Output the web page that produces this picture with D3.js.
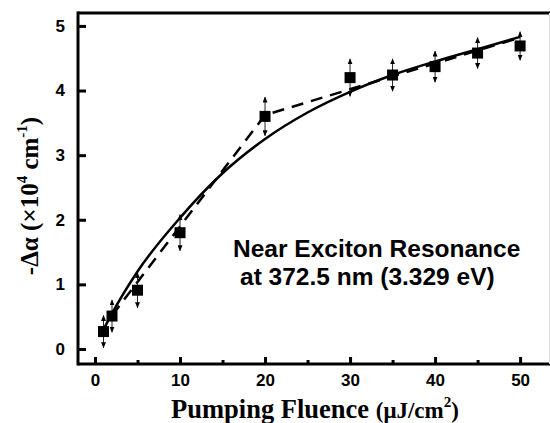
<!DOCTYPE html>
<html lang="en">
<head>
<meta charset="UTF-8">
<title>Pumping fluence</title>
<script src="https://d3js.org/d3.v7.min.js"></script>
<style>
    body { margin: 0; background: #fff; }
    svg text { fill: #000; }
    .tick-lbl { font-family: Arial, "Liberation Sans", sans-serif; font-weight: bold; font-size: 17px; }
    .note { font-family: Arial, "Liberation Sans", sans-serif; font-weight: bold; font-size: 24.5px; }
    .title { font-family: "Times New Roman", "Liberation Serif", serif; font-weight: bold; }
</style>
</head>
<body>
<div id="chart"></div>
<script>
    // measured points
    let fluence = [1, 2, 5, 10, 20, 30, 35, 40, 45, 50];
    let dAlpha  = [0.27, 0.51, 0.91, 1.80, 3.60, 4.20, 4.24, 4.37, 4.58, 4.69];
    let errBar  = [0.25, 0.25, 0.27, 0.28, 0.30, 0.29, 0.25, 0.24, 0.24, 0.22];

    // solid fit curve
    let fitX = [1, 2, 5, 10, 15, 20, 25, 30, 35, 40, 45, 50];
    let fitY = [0.30, 0.55, 1.20, 2.03, 2.72, 3.25, 3.66, 3.98, 4.24, 4.45, 4.64, 4.83];

    // dashed two-segment guide
    let dashX = [2, 20, 50];
    let dashY = [0.52, 3.62, 4.82];

    let xTicks = [0, 10, 20, 30, 40, 50];
    let xMinor = [5, 15, 25, 35, 45];
    let yTicks = [0, 1, 2, 3, 4, 5];

    let width = 550, height = 423;
    let frame = {left: 78, top: 13, right: 549, bottom: 364};

    let svg = d3.select("#chart").append("svg")
        .attr("width", width)
        .attr("height", height);

    let x = d3.scaleLinear().domain([-2, 53.4]).range([frame.left, frame.right]);
    let y = d3.scaleLinear().domain([-0.232, 5.2]).range([frame.bottom, frame.top]);

    // arrowhead, tip along the line direction
    svg.append("defs").append("marker")
        .attr("id", "arrow")
        .attr("viewBox", "0 0 12 10")
        .attr("refX", 11).attr("refY", 5)
        .attr("markerWidth", 6).attr("markerHeight", 5)
        .attr("orient", "auto-start-reverse")
        .append("path")
        .attr("d", "M0,0 L12,5 L0,10 Z")
        .attr("fill", "#000");

    // frame: left, bottom, top thick; right side nearly cut off
    svg.append("line").attr("x1", frame.left).attr("x2", frame.left)
        .attr("y1", frame.top - 1.5).attr("y2", frame.bottom + 1.5)
        .attr("stroke", "#000").attr("stroke-width", 3);
    svg.append("line").attr("x1", frame.left).attr("x2", width)
        .attr("y1", frame.bottom).attr("y2", frame.bottom)
        .attr("stroke", "#000").attr("stroke-width", 3);
    svg.append("line").attr("x1", frame.left).attr("x2", width)
        .attr("y1", frame.top).attr("y2", frame.top)
        .attr("stroke", "#000").attr("stroke-width", 3);
    svg.append("line").attr("x1", frame.right + 0.5).attr("x2", frame.right + 0.5)
        .attr("y1", frame.top).attr("y2", frame.bottom)
        .attr("stroke", "#ddd").attr("stroke-width", 1);

    // x axis ticks (pointing inward)
    let xAxis = d3.axisBottom(x).tickValues(xTicks).tickSize(-7).tickPadding(10).tickFormat(d3.format("d"));
    let gx = svg.append("g").attr("transform", `translate(0,${frame.bottom})`).call(xAxis);
    gx.select(".domain").remove();
    gx.selectAll(".tick line").attr("stroke-width", 3);
    gx.selectAll(".tick text").attr("class", "tick-lbl").attr("font-size", null).attr("font-family", null);

    let gxm = svg.append("g").attr("transform", `translate(0,${frame.bottom})`)
        .call(d3.axisBottom(x).tickValues(xMinor).tickSize(-4).tickFormat(""));
    gxm.select(".domain").remove();
    gxm.selectAll(".tick line").attr("stroke-width", 3);

    let yAxis = d3.axisLeft(y).tickValues(yTicks).tickSize(-8).tickPadding(13).tickFormat(d3.format("d"));
    let gy = svg.append("g").attr("transform", `translate(${frame.left},0)`).call(yAxis);
    gy.select(".domain").remove();
    gy.selectAll(".tick line").attr("stroke-width", 3);
    gy.selectAll(".tick text").attr("class", "tick-lbl").attr("font-size", null).attr("font-family", null);

    // fit curve
    let fitLine = d3.line()
        .x(d => x(d[0]))
        .y(d => y(d[1]))
        .curve(d3.curveMonotoneX);
    svg.append("path")
        .datum(d3.zip(fitX, fitY))
        .attr("fill", "none")
        .attr("stroke", "#000")
        .attr("stroke-width", 2.5)
        .attr("d", fitLine);

    // dashed guide
    let dashLine = d3.line().x(d => x(d[0])).y(d => y(d[1]));
    svg.append("path")
        .datum(d3.zip(dashX, dashY))
        .attr("fill", "none")
        .attr("stroke", "#000")
        .attr("stroke-width", 2.5)
        .attr("stroke-dasharray", "12,8")
        .attr("d", dashLine);

    let pts = fluence.map((f, i) => ({x: f, y: dAlpha[i], e: errBar[i]}));

    // error bars
    svg.append("g").selectAll("line")
        .data(pts)
        .join("line")
        .attr("x1", d => x(d.x)).attr("x2", d => x(d.x))
        .attr("y1", d => y(d.y + d.e)).attr("y2", d => y(d.y - d.e))
        .attr("stroke", "#222")
        .attr("stroke-width", 1)
        .attr("marker-start", "url(#arrow)")
        .attr("marker-end", "url(#arrow)");

    // square markers
    let sz = 11;
    svg.append("g").selectAll("rect")
        .data(pts)
        .join("rect")
        .attr("x", d => x(d.x) - sz / 2)
        .attr("y", d => y(d.y) - sz / 2)
        .attr("width", sz).attr("height", sz)
        .attr("fill", "#000");

    // annotation
    svg.append("text").attr("class", "note")
        .attr("x", 233).attr("y", 257)
        .text("Near Exciton Resonance");
    svg.append("text").attr("class", "note")
        .attr("x", 240).attr("y", 285)
        .text("at 372.5 nm (3.329 eV)");

    // axis titles
    let xt = svg.append("text").attr("class", "title")
        .attr("x", 315).attr("y", 418)
        .attr("text-anchor", "middle")
        .attr("font-size", 26.5);
    xt.append("tspan").text("Pumping Fluence ");
    xt.append("tspan").attr("font-size", 23).text("(\u03bcJ/cm");
    xt.append("tspan").attr("font-size", 15).attr("dy", -11).text("2");
    xt.append("tspan").attr("font-size", 23).attr("dy", 11).text(")");

    let yt = svg.append("text").attr("class", "title")
        .attr("transform", "translate(38,196) rotate(-90)")
        .attr("text-anchor", "middle")
        .attr("font-size", 25);
    yt.append("tspan").text("-\u0394\u03b1 (\u00d710");
    yt.append("tspan").attr("font-size", 15).attr("dy", -11).text("4");
    yt.append("tspan").attr("dy", 11).text(" cm");
    yt.append("tspan").attr("font-size", 15).attr("dy", -11).text("-1");
    yt.append("tspan").attr("dy", 11).text(")");
</script>
</body>
</html>
